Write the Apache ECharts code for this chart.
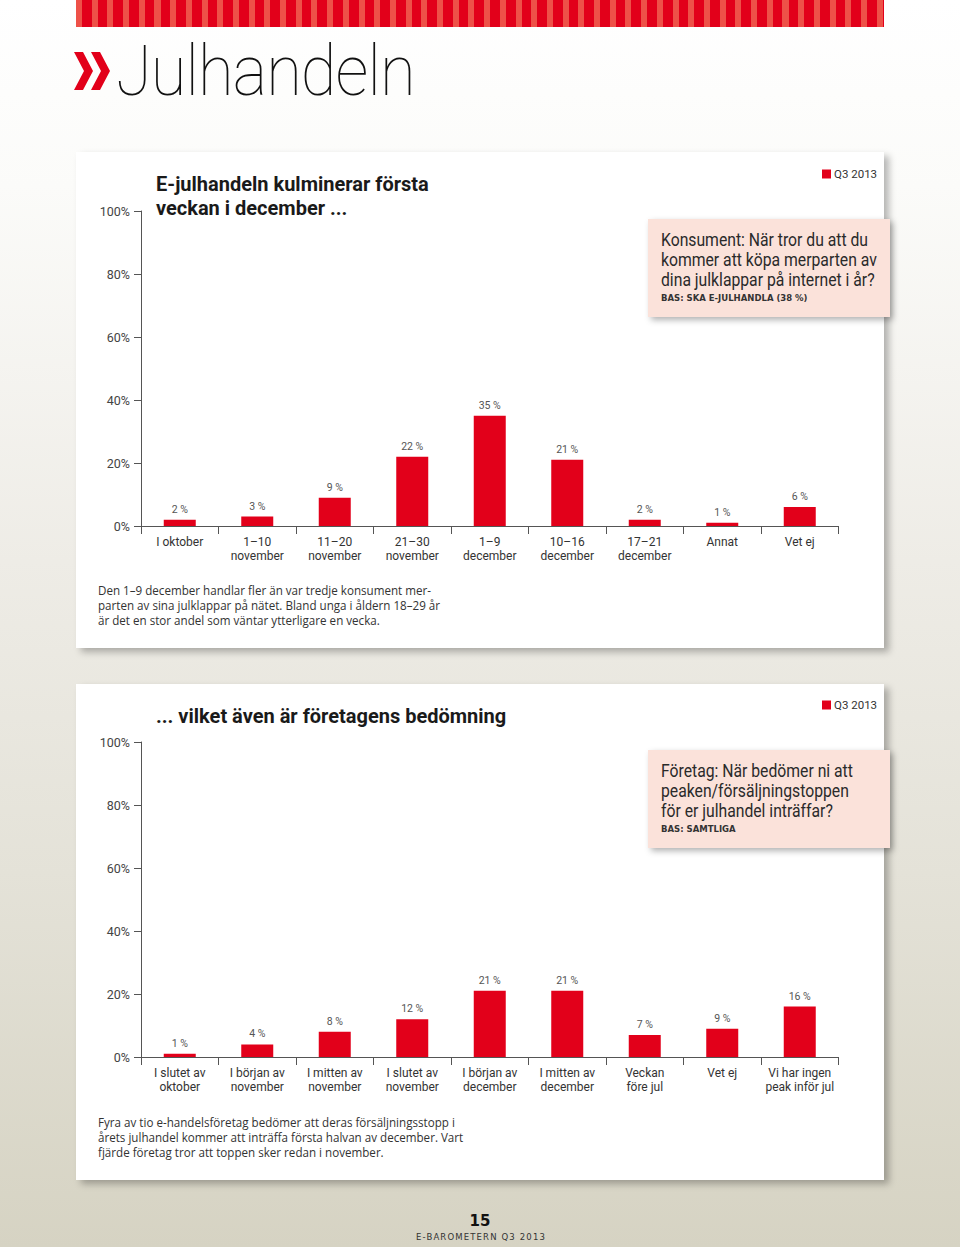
<!DOCTYPE html>
<html>
<head>
<meta charset="utf-8">
<script src="https://cdn.jsdelivr.net/npm/echarts@6/dist/echarts.min.js"></script>
<style>
  html, body { margin: 0; padding: 0; }
  body {
    width: 960px; height: 1247px; position: relative; overflow: hidden;
    background: linear-gradient(to bottom, #ffffff 0%, #fbfbf9 15%, #eeece6 45%, #e4e2d8 70%, #d6d3c3 100%);
    font-family: Roboto, sans-serif;
  }
  #stripe {
    position: absolute; left: 76px; top: 0; width: 808px; height: 27px;
    background: repeating-linear-gradient(to right, #ee5148 0px, #ee5148 6px, #e2001a 6px, #e2001a 15.7px);
  }
  #chev { position: absolute; left: 74px; top: 52px; }
  #pagetitle {
    position: absolute; left: 116px; top: 30px; font-family: Roboto, sans-serif; font-weight: 100;
    font-size: 70px; color: #111; transform: scaleX(0.93); transform-origin: left top; letter-spacing: -1px;
  }
  .panel { position: absolute; left: 76px; width: 808px; height: 496px; background: #fff;
    box-shadow: 5px 4px 7px rgba(0,0,0,0.28); }
  #p1 { top: 152px; }
  #p2 { top: 684px; }
  #pagenum { position: absolute; left: 0; width: 960px; top: 1212px; text-align: center;
    font-family: 'DejaVu Sans', sans-serif; font-weight: bold; font-size: 15px; color: #111; }
  #footer { position: absolute; left: 1px; width: 960px; top: 1232px; text-align: center;
    font-family: 'DejaVu Sans', sans-serif; font-size: 8.5px; letter-spacing: 1.15px; color: #333; }
  #chart { position: absolute; left: 0; top: 0; width: 960px; height: 1247px; }
</style>
</head>
<body>
<div id="stripe"></div>
<svg id="chev" width="40" height="38" viewBox="0 0 40 38">
  <polygon points="0,0 9,0 19,19 9,38 0,38 10,19" fill="#e2001a"/>
  <polygon points="17,0 26,0 36,19 26,38 17,38 27,19" fill="#e2001a"/>
</svg>
<div id="pagetitle">Julhandeln</div>
<div class="panel" id="p1"></div>
<div class="panel" id="p2"></div>
<div id="pagenum">15</div>
<div id="footer">E-BAROMETERN Q3 2013</div>
<div id="chart"></div>
<script>
// ---- data ----
var categories1 = ['I oktober', '1–10\nnovember', '11–20\nnovember', '21–30\nnovember', '1–9\ndecember', '10–16\ndecember', '17–21\ndecember', 'Annat', 'Vet ej'];
var values1 = [2, 3, 9, 22, 35, 21, 2, 1, 6];
var categories2 = ['I slutet av\noktober', 'I början av\nnovember', 'I mitten av\nnovember', 'I slutet av\nnovember', 'I början av\ndecember', 'I mitten av\ndecember', 'Veckan\nföre jul', 'Vet ej', 'Vi har ingen\npeak inför jul'];
var values2 = [1, 4, 8, 12, 21, 21, 7, 9, 16];
var yTicks = [0, 20, 40, 60, 80, 100];
var seriesName = 'Q3 2013';
var title1 = ['E-julhandeln kulminerar första', 'veckan i december ...'];
var title2 = ['... vilket även är företagens bedömning'];
var question1 = ['Konsument: När tror du att du', 'kommer att köpa merparten av', 'dina julklappar på internet i år?'];
var base1 = 'BAS: SKA E-JULHANDLA (38 %)';
var question2 = ['Företag: När bedömer ni att', 'peaken/försäljningstoppen', 'för er julhandel inträffar?'];
var base2 = 'BAS: SAMTLIGA';
var note1 = ['Den 1–9 december handlar fler än var tredje konsument mer-', 'parten av sina julklappar på nätet. Bland unga i åldern 18–29 år', 'är det en stor andel som väntar ytterligare en vecka.'];
var note2 = ['Fyra av tio e-handelsföretag bedömer att deras försäljningsstopp i', 'årets julhandel kommer att inträffa första halvan av december. Vart', 'fjärde företag tror att toppen sker redan i november.'];

var FONT = "Roboto, 'DejaVu Sans Condensed', sans-serif";
var RED = '#e2001a';

var chart = echarts.init(document.getElementById('chart'), null, { renderer: 'svg' });

function xAxis(gi, cats) {
  return {
    type: 'category', gridIndex: gi, data: cats, boundaryGap: true,
    axisLine: { lineStyle: { color: '#555', width: 1 } },
    axisTick: { show: true, length: 8, alignWithLabel: false, lineStyle: { color: '#555' } },
    axisLabel: { color: '#333', fontFamily: FONT, fontSize: 12, lineHeight: 14, margin: 9, interval: 0 }
  };
}
function yAxis(gi) {
  return {
    type: 'value', gridIndex: gi, min: yTicks[0], max: yTicks[yTicks.length - 1], interval: yTicks[1] - yTicks[0],
    axisLine: { show: true, lineStyle: { color: '#555', width: 1 } },
    axisTick: { show: true, length: 7, lineStyle: { color: '#555' } },
    splitLine: { show: false },
    axisLabel: { color: '#444', fontFamily: FONT, fontSize: 12.5, margin: 11, formatter: '{value}%' }
  };
}
function bars(gi, vals) {
  return {
    name: seriesName, type: 'bar', xAxisIndex: gi, yAxisIndex: gi, data: vals, barWidth: 32,
    itemStyle: { color: RED }, animation: false,
    label: { show: true, position: 'top', distance: 5, color: '#555', fontFamily: FONT, fontSize: 10.5, formatter: '{c} %' }
  };
}
function textLines(lines, x, yc, lh, font, fill, sx) {
  return lines.map(function (t, i) {
    return { type: 'text', x: x, y: yc + i * lh, scaleX: sx || 1,
      style: { text: t, x: 0, y: 0, font: font, fill: fill, textVerticalAlign: 'middle' } };
  });
}
function qbox(top, lines, base) {
  var els = [{
    type: 'rect', shape: { x: 648, y: top, width: 242, height: 98 },
    style: { fill: '#fbe2da', shadowBlur: 6, shadowColor: 'rgba(0,0,0,0.3)', shadowOffsetX: 3, shadowOffsetY: 3 }
  }];
  els = els.concat(textLines(lines, 661, top + 21, 20.2, "17.5px " + FONT, '#2a2a2a', 0.9));
  els.push({ type: 'text', x: 661, y: top + 79, style: { text: base, x: 0, y: 0, textVerticalAlign: 'middle', font: "bold 8.5px 'DejaVu Sans', sans-serif", fill: '#333' } });
  return els;
}

var NOTEFONT = "12.5px 'Open Sans', 'DejaVu Sans', sans-serif";
var graphics = [];
graphics = graphics.concat(textLines(title1, 156, 184, 24, "bold 20px " + FONT, '#1a1a1a', 1));
graphics = graphics.concat(textLines(title2, 156, 716, 24, "bold 20px " + FONT, '#1a1a1a', 1));
graphics = graphics.concat(qbox(219, question1, base1));
graphics = graphics.concat(qbox(750, question2, base2));
graphics = graphics.concat(textLines(note1, 98, 590, 15.2, NOTEFONT, '#333', 0.93));
graphics = graphics.concat(textLines(note2, 98, 1122, 15.2, NOTEFONT, '#333', 0.93));

function legend(top) {
  return { data: [seriesName], left: 822, top: top, padding: 0, icon: 'rect', itemWidth: 9, itemHeight: 9,
    textStyle: { color: '#333', fontFamily: FONT, fontSize: 11.5, padding: [0, 0, 0, -2] } };
}

var option = {
  animation: false,
  grid: [
    { left: 141, top: 211, width: 697.5, height: 315 },
    { left: 141, top: 742, width: 697.5, height: 315 }
  ],
  legend: [legend(168), legend(699)],
  xAxis: [xAxis(0, categories1), xAxis(1, categories2)],
  yAxis: [yAxis(0), yAxis(1)],
  series: [bars(0, values1), bars(1, values2)],
  graphic: graphics
};
chart.setOption(option);
</script>
</body>
</html>
